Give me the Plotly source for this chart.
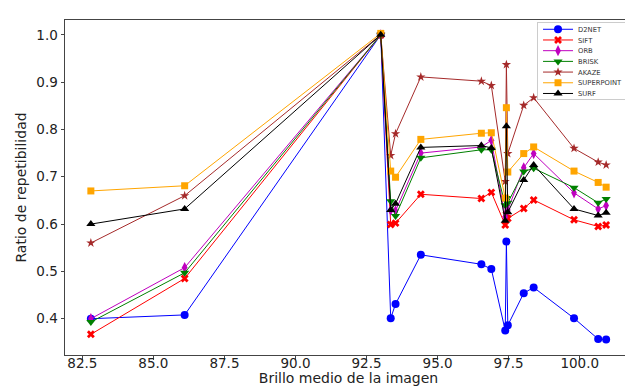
import plotly.graph_objects as go

brillo = [82.8, 86.1, 93.0, 93.35, 93.52, 94.41, 96.54, 96.89, 97.38, 97.42, 97.47, 98.03, 98.38, 99.8, 100.65, 100.93]

d2net = [0.400, 0.408, 1.0, 0.401, 0.431, 0.535, 0.515, 0.505, 0.375, 0.563, 0.386, 0.454, 0.466, 0.401, 0.357, 0.356]
sift = [0.367, 0.485, 1.0, 0.599, 0.602, 0.663, 0.654, 0.667, 0.598, 0.620, 0.612, 0.633, 0.651, 0.609, 0.595, 0.598]
orb = [0.400, 0.508, 1.0, 0.629, 0.628, 0.750, 0.763, 0.777, 0.615, 0.640, 0.630, 0.719, 0.749, 0.666, 0.632, 0.639]
brisk = [0.393, 0.497, 1.0, 0.648, 0.617, 0.740, 0.757, 0.757, 0.640, 0.655, 0.645, 0.711, 0.718, 0.677, 0.645, 0.653]
akaze = [0.560, 0.660, 1.0, 0.745, 0.791, 0.911, 0.902, 0.893, 0.690, 0.937, 0.749, 0.851, 0.867, 0.760, 0.731, 0.725]
superpoint = [0.670, 0.681, 1.003, 0.712, 0.699, 0.779, 0.792, 0.793, 0.655, 0.846, 0.710, 0.749, 0.763, 0.712, 0.688, 0.678]
surf = [0.600, 0.632, 1.0, 0.630, 0.643, 0.762, 0.766, 0.761, 0.607, 0.807, 0.625, 0.693, 0.725, 0.632, 0.618, 0.624]

x_ticks = [82.5, 85.0, 87.5, 90.0, 92.5, 95.0, 97.5, 100.0]
y_ticks = [0.4, 0.5, 0.6, 0.7, 0.8, 0.9, 1.0]

series = [
    ("D2NET", d2net, "#0000ff", "circle", 8),
    ("SIFT", sift, "#ff0000", "x", 7),
    ("ORB", orb, "#bf00bf", "diamond-tall", 8),
    ("BRISK", brisk, "#008000", "triangle-down", 8),
    ("AKAZE", akaze, "#a52a2a", "star", 7),
    ("SUPERPOINT", superpoint, "#ffa500", "square", 7),
    ("SURF", surf, "#000000", "triangle-up", 8),
]

fig = go.Figure()
for name, vals, color, sym, size in series:
    fig.add_trace(go.Scatter(
        x=brillo, y=vals, name=name, mode="lines+markers",
        line=dict(color=color, width=1),
        marker=dict(color=color, symbol=sym, size=size, line=dict(width=0)),
    ))

font = "DejaVu Sans, sans-serif"
fig.update_layout(
    width=633, height=389,
    margin=dict(l=56.5, r=8, t=11.7, b=38.4),
    paper_bgcolor="white", plot_bgcolor="white",
    font=dict(family=font, size=13.5, color="#222"),
    showlegend=True,
    legend=dict(
        x=0.993, xanchor="right", y=0.995, yanchor="top",
        font=dict(size=6.8, family=font, color="#333"),
        bgcolor="rgba(255,255,255,0.8)", bordercolor="#cccccc", borderwidth=1,
        tracegroupgap=0, itemwidth=30,
    ),
    xaxis=dict(
        range=[81.89, 101.84], tickmode="array",
        tickvals=x_ticks, ticktext=[f"{v:.1f}" for v in x_ticks],
        showgrid=False, zeroline=False, showline=True, mirror=True,
        linecolor="#444", linewidth=1, ticks="outside", ticklen=3.5, tickcolor="#444",
        title=dict(text="Brillo medio de la imagen", font=dict(size=14), standoff=0),
    ),
    yaxis=dict(
        range=[0.3233, 1.0313], tickmode="array",
        tickvals=y_ticks, ticktext=[f"{v:.1f}" for v in y_ticks],
        showgrid=False, zeroline=False, showline=True, mirror=True,
        linecolor="#444", linewidth=1, ticks="outside", ticklen=3.5, tickcolor="#444",
        title=dict(text="Ratio de repetibilidad", font=dict(size=14), standoff=6),
    ),
)

# Matplotlib-like compact legend rows and tighter x-label spacing
post = """
var gd = document.getElementById('{plot_id}');
(function(){
  var items = gd.querySelectorAll('.legend .traces');
  if(items.length){
    var m = /translate\\(([-\\d.]+)[ ,]+([-\\d.]+)\\)/.exec(items[0].getAttribute('transform') || '');
    var x0 = m ? parseFloat(m[1]) : 1;
    var first = 7.6, step = 10.7, bottom = 5.8;
    items.forEach(function(el, i){
      el.setAttribute('transform', 'translate(' + x0 + ',' + (first + i*step) + ')');
    });
    var h = first + (items.length - 1) * step + bottom;
    gd.querySelectorAll('.legend rect.bg').forEach(function(bg){
      bg.setAttribute('height', h);
    });
  }
  gd.querySelectorAll('.xaxislayer-above g.xtick').forEach(function(g){
    g.setAttribute('transform', 'translate(0,-8)');
  });
  var xt = gd.querySelector('.g-xtitle');
  if(xt) xt.setAttribute('transform', 'translate(0,-5)');
})();
"""

fig.write_html("out.html", post_script=post)
